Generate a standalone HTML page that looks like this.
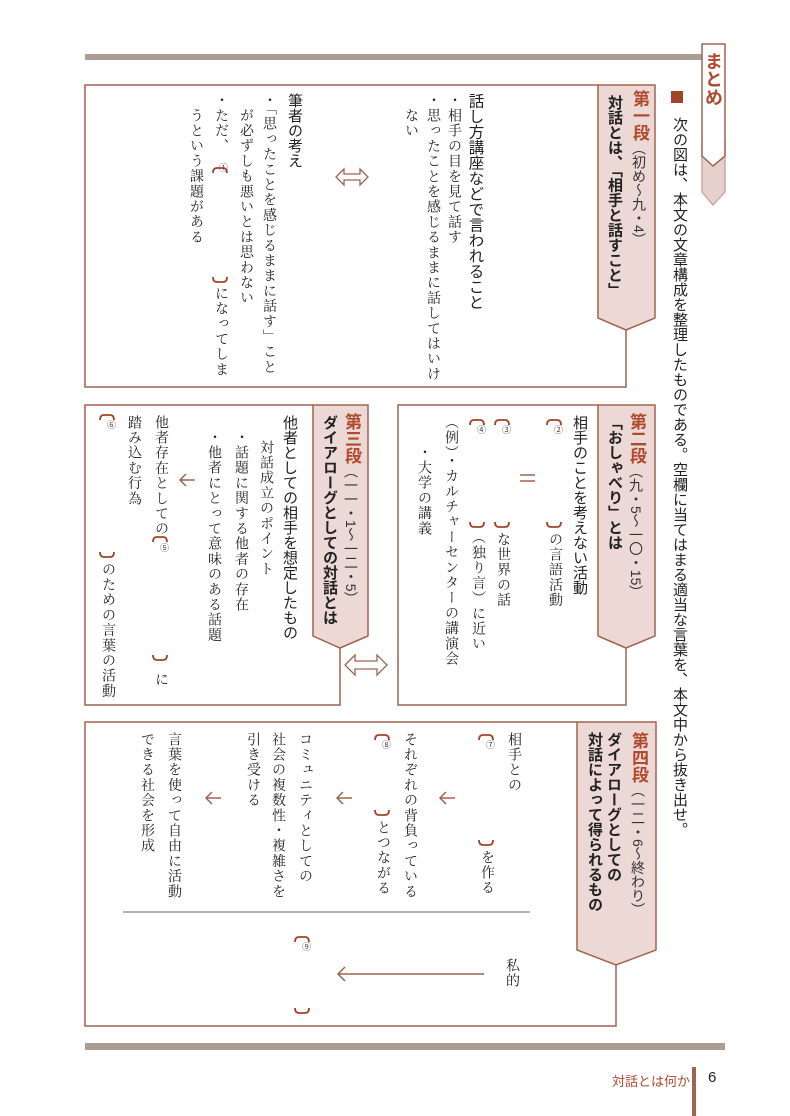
<!DOCTYPE html>
<html><head><meta charset="utf-8">
<style>
body{margin:0;background:#fff;}
#p{position:relative;width:790px;height:1116px;overflow:hidden;background:#fff;}
.v{position:absolute;writing-mode:vertical-rl;white-space:nowrap;line-height:1;color:#222;}
.g{font-family:"Liberation Sans","Noto Sans CJK JP",sans-serif;font-size:15px;}
.m{font-family:"Liberation Serif","Noto Serif CJK SC",serif;font-size:14px;letter-spacing:1.2px;}
.b{font-weight:bold;}
.r{color:#b04a2e;}
.s{font-size:14px;font-weight:normal;color:#333;}
.n{position:absolute;font-family:"Liberation Sans","Noto Sans CJK JP",sans-serif;font-size:9px;color:#444;line-height:1;}
</style></head><body><div id="p">
<svg width="790" height="1116" style="position:absolute;left:0;top:0">
<g fill="none" stroke="#a0644f" stroke-width="1.5">
<rect x="85" y="54" width="617" height="6" fill="#ac9c94" stroke="none"/>
<rect x="85" y="1043" width="640" height="7" fill="#ac9c94" stroke="none"/>
<polygon points="702,140 725,140 725,192 713,205 702,192" fill="#e6d0cc" stroke="#c9aaa2"/>
<polygon points="702,44 725,44 725,156 713,166 702,156" fill="#fff" stroke="#a0644f"/>
<polyline points="626,330 626,387 85,387 85,85 598,85"/>
<polygon points="598,85 655,85 655,318 626,330 598,318" fill="#ecd8d4"/>
<polyline points="626,648 626,705 398,705 398,405 598,405"/>
<polygon points="598,405 655,405 655,636 626,648 598,636" fill="#ecd8d4"/>
<polyline points="340,648 340,705 85,705 85,405 313,405"/>
<polygon points="313,405 368,405 368,636 340,648 313,636" fill="#ecd8d4"/>
<polyline points="616,965 616,1026 85,1026 85,722 577,722"/>
<polygon points="577,722 656,722 656,950 616,965 577,950" fill="#ecd8d4"/>
<polygon points="336,177 344,169 344,174 360,174 360,169 368,177 360,185 360,180 344,180 344,185" fill="#fff" stroke-width="1.3"/>
<polygon points="345,665 355,655 355,661 377,661 377,655 387,665 377,675 377,669 355,669 355,675" fill="#fff" stroke-width="1.3"/>
<line x1="520" y1="475" x2="535" y2="475"/><line x1="520" y1="481" x2="535" y2="481"/>
<path d="M195 480 L180 480 M186 474 L180 480 L186 486"/>
<path d="M455 798 L440 798 M446 792 L440 798 L446 804"/>
<path d="M352 798 L337 798 M343 792 L337 798 L343 804"/>
<path d="M221 798 L206 798 M212 792 L206 798 L212 804"/>
<path d="M484 974 L338 974 M345 967 L338 974 L345 981"/>
<line x1="123" y1="912" x2="530" y2="912" stroke="#666" stroke-width="1"/>
</g>
<rect x="671" y="91" width="12" height="12" fill="#a0442a"/>
<rect x="692" y="1067" width="4" height="49" fill="#a0644f"/>
<g fill="none" stroke="#a0442a" stroke-width="1.8">
<path d="M213 173 Q213 168 217 168 L223 168 Q227 168 227 173"/>
<path d="M547 425 Q547 420 551 420 L557 420 Q561 420 561 425"/>
<path d="M495 425 Q495 420 499 420 L505 420 Q509 420 509 425"/>
<path d="M470 425 Q470 420 474 420 L480 420 Q484 420 484 425"/>
<path d="M153 542 Q153 537 157 537 L163 537 Q167 537 167 542"/>
<path d="M100 420 Q100 415 104 415 L110 415 Q114 415 114 420"/>
<path d="M479 740 Q479 735 483 735 L489 735 Q493 735 493 740"/>
<path d="M375 740 Q375 735 379 735 L385 735 Q389 735 389 740"/>
<path d="M295 942 Q295 937 299 937 L305 937 Q309 937 309 942"/>
<path d="M213 277 Q213 282 217 282 L223 282 Q227 282 227 277"/>
<path d="M547 522 Q547 527 551 527 L557 527 Q561 527 561 522"/>
<path d="M495 522 Q495 527 499 527 L505 527 Q509 527 509 522"/>
<path d="M470 522 Q470 527 474 527 L480 527 Q484 527 484 522"/>
<path d="M153 655 Q153 660 157 660 L163 660 Q167 660 167 655"/>
<path d="M100 552 Q100 557 104 557 L110 557 Q114 557 114 552"/>
<path d="M479 840 Q479 845 483 845 L489 845 Q493 845 493 840"/>
<path d="M375 810 Q375 815 379 815 L385 815 Q389 815 389 810"/>
<path d="M295 1008 Q295 1013 299 1013 L305 1013 Q309 1013 309 1008"/>
</g>
</svg>

<div class="v g b r" style="left:704px;top:52px;font-size:18px;">まとめ</div>
<div class="v g" style="left:672px;top:117px;">次の図は、本文の文章構成を整理したものである。空欄に当てはまる適当な言葉を、本文中から抜き出せ。</div>

<div class="v g b" style="left:631px;top:90px;"><span class="r" style="font-size:17px">第一段</span><span class="s">（初め～九・4）</span></div>
<div class="v g b" style="left:607px;top:95px;">対話とは、「相手と話すこと」</div>
<div class="v g" style="left:467px;top:93px;font-size:15.5px">話し方講座などで言われること</div>
<div class="v m" style="left:446px;top:93px;">・相手の目を見て話す</div>
<div class="v m" style="left:425px;top:93px;">・思ったことを感じるままに話してはいけ</div>
<div class="v m" style="left:403px;top:108px;">ない</div>
<div class="v g" style="left:287px;top:93px;">筆者の考え</div>
<div class="v m" style="left:261px;top:93px;">・「思ったことを感じるままに話す」こと</div>
<div class="v m" style="left:238px;top:108px;">が必ずしも悪いとは思わない</div>
<div class="v m" style="left:213px;top:93px;">・ただ、</div>
<div class="n" style="left:219px;top:164px;">①</div>
<div class="v m" style="left:213px;top:286px;">になってしま</div>
<div class="v m" style="left:188px;top:108px;">うという課題がある</div>

<div class="v g b" style="left:628px;top:413px;"><span class="r" style="font-size:17px">第二段</span><span class="s">（九・5～一〇・15）</span></div>
<div class="v g b" style="left:607px;top:415px;">「おしゃべり」とは</div>
<div class="v g" style="left:572px;top:415px;">相手のことを考えない活動</div>
<div class="n" style="left:554px;top:426px;">②</div>
<div class="v m" style="left:547px;top:532px;">の言語活動</div>
<div class="n" style="left:502px;top:426px;">③</div>
<div class="v m" style="left:495px;top:532px;">な世界の話</div>
<div class="n" style="left:477px;top:426px;">④</div>
<div class="v m" style="left:470px;top:530px;">（独り言）に近い</div>
<div class="v m" style="left:443px;top:415px;">（例）・カルチャーセンターの講演会</div>
<div class="v m" style="left:416px;top:445px;">・大学の講義</div>

<div class="v g b" style="left:343px;top:413px;"><span class="r" style="font-size:17px">第三段</span><span class="s">（一一・1～一二・5）</span></div>
<div class="v g b" style="left:322px;top:415px;">ダイアローグとしての対話とは</div>
<div class="v g" style="left:282px;top:415px;">他者としての相手を想定したもの</div>
<div class="v m" style="left:258px;top:440px;">対話成立のポイント</div>
<div class="v m" style="left:233px;top:430px;">・話題に関する他者の存在</div>
<div class="v m" style="left:206px;top:430px;">・他者にとって意味のある話題</div>
<div class="v m" style="left:153px;top:415px;">他者存在としての</div>
<div class="n" style="left:160px;top:544px;">⑤</div>
<div class="v m" style="left:153px;top:672px;">に</div>
<div class="v m" style="left:126px;top:415px;">踏み込む行為</div>
<div class="n" style="left:107px;top:421px;">⑥</div>
<div class="v m" style="left:100px;top:562px;">のための言葉の活動</div>

<div class="v g b" style="left:630px;top:732px;"><span class="r" style="font-size:17px">第四段</span><span class="s">（一二・6～終わり）</span></div>
<div class="v g b" style="left:606px;top:732px;">ダイアローグとしての</div>
<div class="v g b" style="left:587px;top:732px;">対話によって得られるもの</div>
<div class="v m" style="left:506px;top:732px;">相手との</div>
<div class="n" style="left:486px;top:741px;">⑦</div>
<div class="v m" style="left:479px;top:850px;">を作る</div>
<div class="v m" style="left:402px;top:732px;">それぞれの背負っている</div>
<div class="n" style="left:382px;top:741px;">⑧</div>
<div class="v m" style="left:375px;top:820px;">とつながる</div>
<div class="v m" style="left:297px;top:732px;">コミュニティとしての</div>
<div class="v m" style="left:270px;top:732px;">社会の複数性・複雑さを</div>
<div class="v m" style="left:245px;top:732px;">引き受ける</div>
<div class="v m" style="left:166px;top:732px;">言葉を使って自由に活動</div>
<div class="v m" style="left:139px;top:732px;">できる社会を形成</div>
<div class="n" style="left:302px;top:943px;">⑨</div>
<div class="v m" style="left:504px;top:958px;">私的</div>

<div style="position:absolute;left:612px;top:1071px;font-family:'Liberation Sans','Noto Sans CJK JP',sans-serif;font-size:13px;color:#b04a2e;">対話とは何か</div>
<div style="position:absolute;left:708px;top:1069px;font-family:'Liberation Sans',sans-serif;font-size:15px;color:#222;">6</div>
</div></body></html>
